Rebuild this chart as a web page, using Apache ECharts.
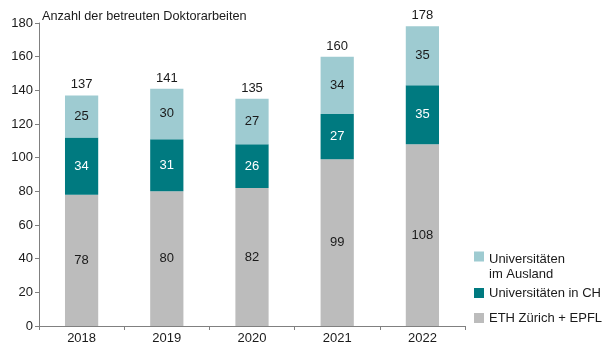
<!DOCTYPE html>
<html><head><meta charset="utf-8">
<script src="https://cdn.jsdelivr.net/npm/echarts@6/dist/echarts.min.js"></script>
<style>html,body{margin:0;padding:0;background:#fff}#c{width:616px;height:345px}</style>
</head><body><div id="c"></div>
<script>
const categories = ['2018','2019','2020','2021','2022'];
const ethEpfl = [78, 80, 82, 99, 108];
const unisCH = [34, 31, 26, 27, 35];
const unisAusland = [25, 30, 27, 34, 35];
const totals = [137, 141, 135, 160, 178];
const yTicks = [0, 20, 40, 60, 80, 100, 120, 140, 160, 180];

const FONT = '"Liberation Sans", Arial, sans-serif';
const TXT = '#1a1a1a';
const legendText = {fontFamily: FONT, fontSize: 13, color: TXT, lineHeight: 15};
const chart = echarts.init(document.getElementById('c'), null, {renderer: 'canvas'});
chart.setOption({
  animation: false,
  textStyle: {fontFamily: FONT},
  title: {text: 'Anzahl der betreuten Doktorarbeiten', left: 37, top: 5,
    textStyle: {fontFamily: FONT, fontSize: 12.7, fontWeight: 'normal', color: TXT}},
  grid: {left: 39, right: 151, top: 23, bottom: 19, containLabel: false},
  legend: [
    {orient: 'vertical', left: 469, top: 246.5, itemWidth: 10, itemHeight: 30,
      data: [{name: 'Universitäten\nim Ausland', icon: 'path://M0,0H10V10H0Z M0,29.95H0.05V30H0Z'}],
      textStyle: legendText},
    {orient: 'vertical', left: 469, top: 280.5, itemWidth: 10, itemHeight: 10, itemGap: 10,
      data: ['Universitäten in CH', 'ETH Zürich + EPFL'], icon: 'rect',
      textStyle: legendText}
  ],
  xAxis: {type: 'category', data: categories,
    axisLine: {lineStyle: {color: '#808080'}},
    axisTick: {show: true, length: 4, lineStyle: {color: '#808080'}},
    axisLabel: {fontFamily: FONT, fontSize: 13, color: TXT, margin: 6}},
  yAxis: {type: 'value', min: yTicks[0], max: yTicks[yTicks.length-1], interval: 20,
    axisLine: {show: true, lineStyle: {color: '#808080'}},
    axisTick: {show: true, length: 4, lineStyle: {color: '#808080'}},
    splitLine: {show: false},
    axisLabel: {fontFamily: FONT, fontSize: 13, color: TXT, margin: 6}},
  series: [
    {name: 'ETH Zürich + EPFL', type: 'bar', stack: 's', data: ethEpfl, barWidth: '39%',
      itemStyle: {color: '#bcbcbc'},
      label: {show: true, position: 'inside', fontFamily: FONT, fontSize: 13, color: TXT}},
    {name: 'Universitäten in CH', type: 'bar', stack: 's', data: unisCH,
      itemStyle: {color: '#007a80'},
      label: {show: true, position: 'inside', fontFamily: FONT, fontSize: 13, color: '#ffffff'}},
    {name: 'Universitäten\nim Ausland', type: 'bar', stack: 's', data: unisAusland,
      itemStyle: {color: '#9ecbd1'},
      label: {show: true, position: 'inside', fontFamily: FONT, fontSize: 13, color: TXT}},
    {name: 'total', type: 'bar', stack: 's', data: totals.map(() => 0),
      itemStyle: {color: 'transparent'},
      label: {show: true, position: 'top', distance: 4, fontFamily: FONT, fontSize: 13, color: TXT,
        formatter: p => String(totals[p.dataIndex])}}
  ]
});
</script></body></html>
